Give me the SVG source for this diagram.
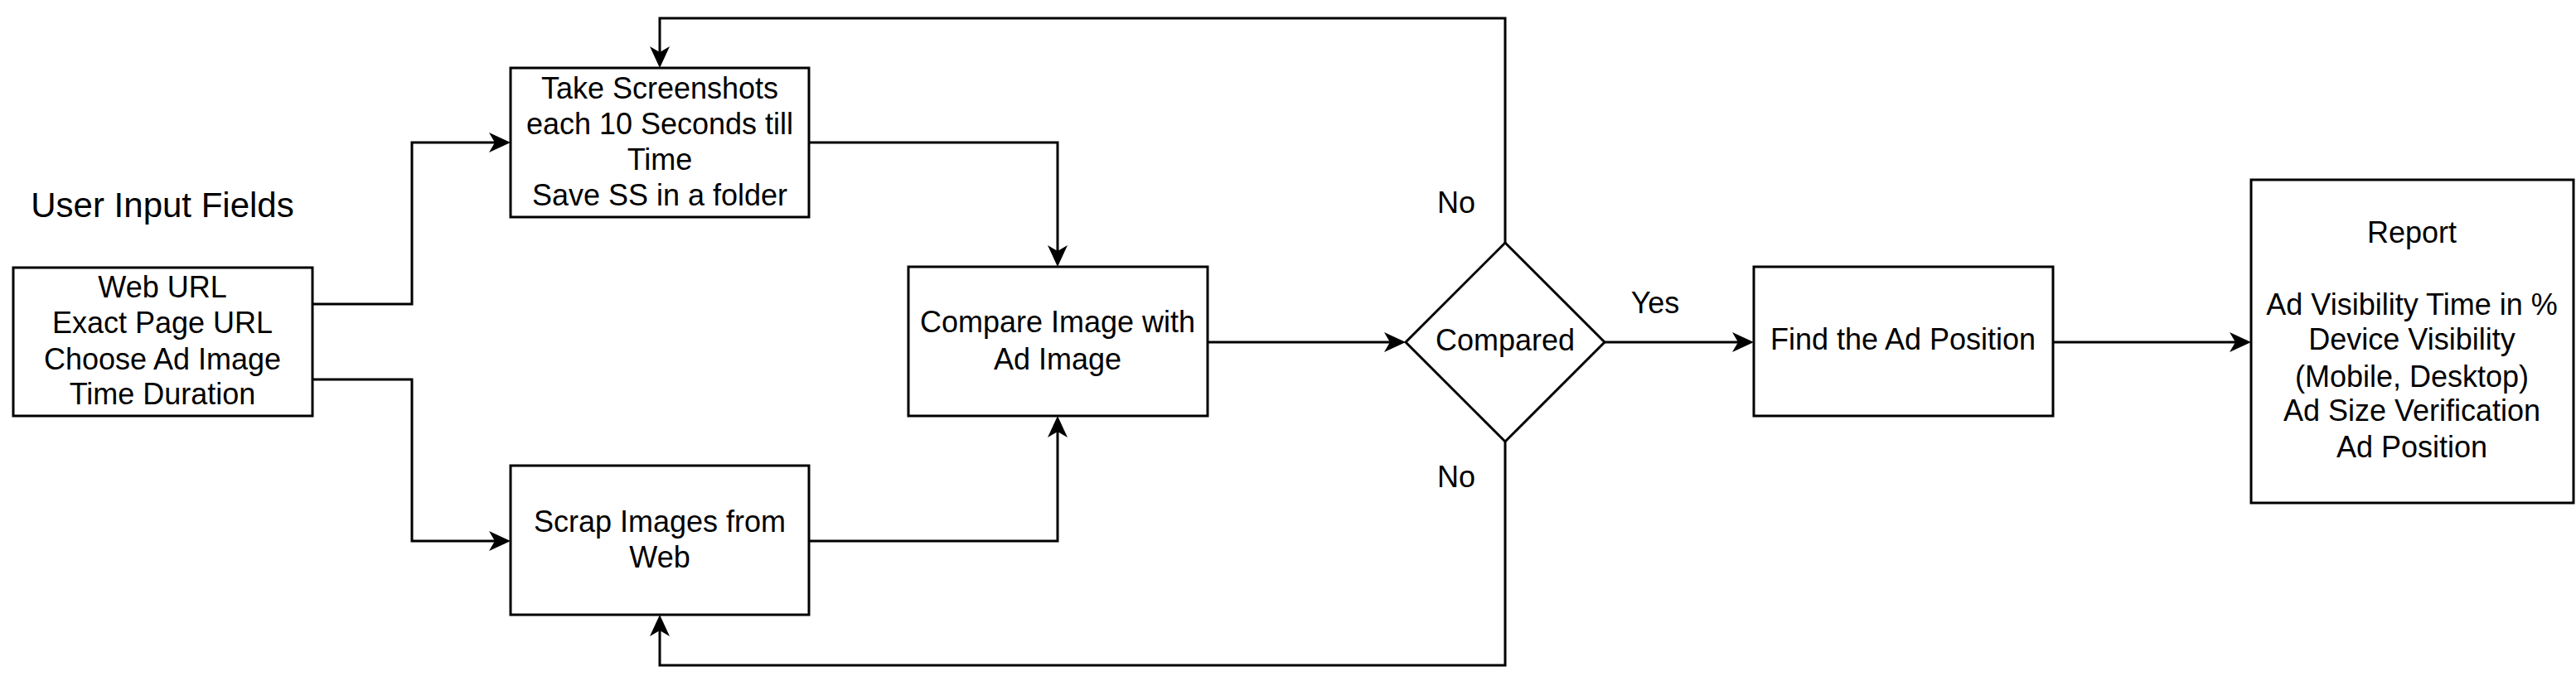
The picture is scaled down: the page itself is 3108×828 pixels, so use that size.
<svg xmlns="http://www.w3.org/2000/svg" width="3108" height="828" viewBox="0 0 3108 828">
<style>
.box{fill:#fff;stroke:#000;stroke-width:3}
.edge{fill:none;stroke:#000;stroke-width:3}
text{font-family:"Liberation Sans",Arial,sans-serif;font-size:36px;fill:#000;text-anchor:middle}
.title{font-size:42px}
</style>
<defs>
<marker id="arr" markerUnits="userSpaceOnUse" markerWidth="26" markerHeight="24" viewBox="0 0 26 24" refX="7" refY="12" orient="auto">
<path d="M0,0 L26,12 L0,24 L7,12 Z" fill="#000"/>
</marker>
</defs>
<rect width="3108" height="828" fill="#fff"/>
<g id="connectors">
<path class="edge" marker-end="url(#arr)" d="M377,367 H497 V172 H597"/>
<path class="edge" marker-end="url(#arr)" d="M377,458 H497 V653 H597"/>
<path class="edge" marker-end="url(#arr)" d="M976,172 H1276 V303"/>
<path class="edge" marker-end="url(#arr)" d="M976,653 H1276 V521"/>
<path class="edge" marker-end="url(#arr)" d="M1457,413 H1677"/>
<path class="edge" marker-end="url(#arr)" d="M1936,413 H2097"/>
<path class="edge" marker-end="url(#arr)" d="M2477,413 H2697"/>
<path class="edge" marker-end="url(#arr)" d="M1816,293 V22 H796 V63"/>
<path class="edge" marker-end="url(#arr)" d="M1816,533 V803 H796 V761"/>
<text x="1757" y="257">No</text>
<text x="1997" y="378">Yes</text>
<text x="1757" y="588">No</text>
</g>
<g id="title"><text class="title" x="196" y="262">User Input Fields</text></g>
<g id="input">
<rect class="box" x="16" y="323" width="361" height="179"/>
<text x="196" y="359">Web URL</text>
<text x="196" y="402">Exact Page URL</text>
<text x="196" y="446">Choose Ad Image</text>
<text x="196" y="488">Time Duration</text>
</g>
<g id="screenshots">
<rect class="box" x="616" y="82" width="360" height="180"/>
<text x="796" y="119">Take Screenshots</text>
<text x="796" y="162">each 10 Seconds till</text>
<text x="796" y="205">Time</text>
<text x="796" y="248">Save SS in a folder</text>
</g>
<g id="scrap">
<rect class="box" x="616" y="562" width="360" height="180"/>
<text x="796" y="642">Scrap Images from</text>
<text x="796" y="685">Web</text>
</g>
<g id="compare">
<rect class="box" x="1096" y="322" width="361" height="180"/>
<text x="1276" y="401">Compare Image with</text>
<text x="1276" y="446">Ad Image</text>
</g>
<g id="decision">
<polygon class="box" points="1816,293 1936,413 1816,533 1696,413"/>
<text x="1816" y="423">Compared</text>
</g>
<g id="find">
<rect class="box" x="2116" y="322" width="361" height="180"/>
<text x="2296" y="422">Find the Ad Position</text>
</g>
<g id="report">
<rect class="box" x="2716" y="217" width="389" height="390"/>
<text x="2910" y="293">Report</text>
<text x="2910" y="380">Ad Visibility Time in %</text>
<text x="2910" y="422">Device Visibility</text>
<text x="2910" y="467">(Mobile, Desktop)</text>
<text x="2910" y="508">Ad Size Verification</text>
<text x="2910" y="552">Ad Position</text>
</g>
</svg>
